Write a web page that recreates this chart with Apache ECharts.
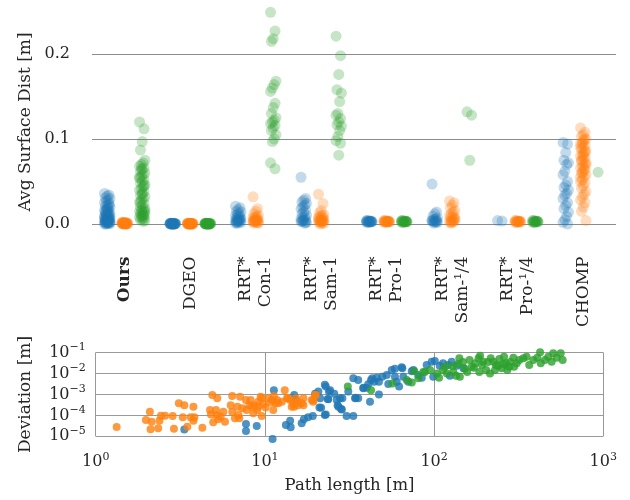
<!DOCTYPE html>
<html><head><meta charset="utf-8">
<script src="https://cdn.jsdelivr.net/npm/echarts@6/dist/echarts.min.js"></script>
<style>html,body{margin:0;padding:0;background:#fff}#c{width:630px;height:500px}</style>
</head><body><div id="c"></div>
<script>
const methods = ['Ours','DGEO','RRT*\nCon-1','RRT*\nSam-1','RRT*\nPro-1','RRT*\nSam-\u00B9/4','RRT*\nPro-\u00B9/4','CHOMP'];
const yTicks = [0, 0.1, 0.2];

// Avg surface distance per method, one list per method
const distBlue = [
  [0.036,0.034,0.033,0.031,0.03,0.028,0.027,0.025,0.024,0.022,0.021,0.02,0.018,0.017,0.016,0.015,0.014,0.013,0.012,0.011,0.01,0.009,0.008,0.008,0.007,0.006,0.006,0.005,0.005,0.004,0.004,0.003,0.003,0.002,0.002,0.002,0.001,0.001,0.001,0.0005,0.012,0.01,0.008,0.006,0.004,0.003,0.002,0.001,0.0,0.0,0.022,0.018,0.015,0.009,0.005],
  [0.001,0.0008,0.0006,0.0005,0.0004,0.0003,0.0002,0.0001,0.0,0.0,0.001,0.0007,0.0005,0.0003,0.0002,0.0001,0.0,0.0008,0.0004,0.0002,0.0,0.0006,0.0003,0.0001,0.0],
  [0.021,0.019,0.017,0.015,0.014,0.012,0.011,0.01,0.009,0.008,0.007,0.006,0.005,0.005,0.004,0.004,0.003,0.003,0.002,0.002,0.001,0.001,0.006,0.004,0.002],
  [0.055,0.03,0.028,0.026,0.024,0.022,0.02,0.018,0.016,0.014,0.012,0.01,0.008,0.007,0.006,0.005,0.004,0.003,0.002,0.001,0.004,0.003,0.002],
  [0.004,0.0035,0.003,0.003,0.0028,0.0025,0.0022,0.002,0.003,0.0035,0.004,0.0025,0.003,0.002,0.0032,0.0028],
  [0.047,0.014,0.012,0.009,0.007,0.006,0.005,0.004,0.004,0.003,0.003,0.002,0.002,0.001,0.004,0.003],
  [0.004,0.0035],
  [0.096,0.094,0.084,0.075,0.072,0.07,0.062,0.058,0.05,0.046,0.043,0.04,0.036,0.034,0.03,0.025,0.022,0.018,0.014,0.009,0.005,0.002,0.0]
];
const distOrange = [
  [0.002,0.0018,0.0015,0.0012,0.001,0.0008,0.0006,0.0005,0.0004,0.0003,0.0002,0.0001,0.0,0.002,0.0015,0.001,0.0007,0.0004,0.0002,0.0,0.0018,0.0012,0.0006,0.0003,0.0],
  [0.001,0.0008,0.0006,0.0005,0.0004,0.0003,0.0002,0.0001,0.0,0.0,0.001,0.0007,0.0005,0.0003,0.0002,0.0001,0.0,0.0008,0.0004,0.0002,0.0,0.0006,0.0003,0.0001,0.0],
  [0.032,0.018,0.015,0.012,0.01,0.009,0.008,0.007,0.006,0.005,0.005,0.004,0.004,0.003,0.003,0.002,0.002,0.001,0.001,0.005,0.004,0.003,0.002],
  [0.035,0.024,0.016,0.013,0.011,0.01,0.009,0.008,0.007,0.006,0.005,0.005,0.004,0.004,0.003,0.003,0.002,0.002,0.001,0.001,0.0,0.006,0.004,0.003],
  [0.004,0.0035,0.003,0.003,0.0028,0.0025,0.0022,0.002,0.003,0.0035,0.004,0.0025,0.003,0.002,0.0032,0.0028],
  [0.027,0.025,0.022,0.019,0.016,0.014,0.012,0.01,0.009,0.008,0.007,0.006,0.005,0.004,0.003,0.003,0.002,0.001,0.006,0.004,0.002],
  [0.004,0.0035,0.003,0.003,0.0028,0.0025,0.0022,0.002,0.003,0.0035,0.004,0.0025,0.003,0.002],
  [0.113,0.108,0.105,0.103,0.1,0.098,0.096,0.094,0.092,0.09,0.088,0.086,0.084,0.082,0.08,0.078,0.076,0.074,0.072,0.07,0.068,0.066,0.064,0.062,0.06,0.058,0.055,0.052,0.05,0.048,0.045,0.042,0.038,0.035,0.032,0.028,0.025,0.02,0.015,0.004,0.1,0.095,0.09,0.085,0.08,0.075,0.07,0.065,0.06,0.055]
];
const distGreen = [
  [0.12,0.112,0.097,0.087,0.075,0.072,0.07,0.068,0.066,0.064,0.062,0.06,0.058,0.056,0.054,0.052,0.05,0.048,0.046,0.044,0.042,0.04,0.038,0.036,0.034,0.032,0.03,0.028,0.026,0.024,0.022,0.02,0.018,0.017,0.016,0.015,0.014,0.013,0.012,0.011,0.01,0.009,0.008,0.007,0.006,0.005,0.004,0.003,0.065,0.055,0.045,0.035,0.025,0.015,0.01],
  [0.001,0.0008,0.0006,0.0005,0.0004,0.0003,0.0002,0.0001,0.0,0.0,0.001,0.0007,0.0005,0.0003,0.0002,0.0001,0.0,0.0008,0.0004,0.0002,0.0,0.0006,0.0003,0.0001,0.0],
  [0.249,0.227,0.218,0.215,0.168,0.164,0.16,0.156,0.142,0.137,0.13,0.125,0.122,0.12,0.118,0.116,0.113,0.11,0.105,0.1,0.097,0.072,0.065],
  [0.221,0.198,0.176,0.158,0.154,0.144,0.13,0.128,0.124,0.12,0.117,0.115,0.11,0.103,0.098,0.095,0.081],
  [0.004,0.0035,0.003,0.003,0.0028,0.0025,0.0022,0.002,0.003,0.0035,0.004,0.0025,0.003,0.002,0.0032,0.0028],
  [0.132,0.128,0.075],
  [0.004,0.0035,0.003,0.003,0.0028,0.0025,0.0022,0.002,0.003,0.0035,0.004,0.0025,0.003,0.002],
  [0.061]
];

// Path length [m] vs deviation [m]
const pathOrange = [[1.33,2.8e-5],[1.98,6.0e-5],[2.09,1.5e-4],[2.14,5.0e-5],[2.11,2.2e-5],[2.38,5.6e-5],[2.43,9.7e-5],[2.57,9.7e-5],[2.34,2.4e-5],[2.85,9.3e-5],[2.90,2.3e-5],[3.1,3.8e-4],[3.34,3.1e-4],[3.27,8.1e-5],[3.48,2.9e-5],[3.64,8.1e-5],[3.78,2.6e-4],[3.83,8.1e-5],[3.78,5.6e-5],[4.27,2.6e-5],[4.74,1.8e-4],[4.8,1.1e-4],[4.89,9.5e-4],[5.23,6.6e-4],[4.95,4.7e-5],[5.14,1.8e-4],[5.19,1.05e-4],[5.3,6.5e-5],[5.48,8.7e-5],[5.68,1.5e-4],[5.81,5.0e-5],[6.28,3.1e-4],[6.41,8.5e-4],[6.41,1.5e-4],[6.65,7.3e-5],[6.87,2.6e-4],[6.97,1.05e-4],[7.13,7.9e-4],[7.06,7.3e-5],[7.35,2.2e-4],[7.73,5.5e-4],[7.8,1.8e-4],[8.09,3.1e-4],[8.24,5.5e-4],[8.36,2.6e-4],[8.54,1.26e-4],[8.63,3.1e-4],[9.02,1.8e-4],[9.14,4.5e-4],[9.44,7.9e-4],[9.57,9.3e-5],[9.78,3.5e-4],[10.1,2.4e-4],[10.5,6.6e-4],[10.8,4.1e-4],[11.3,8.5e-4],[11.2,1.8e-4],[11.6,3.8e-4],[11.8,5.5e-4],[12.6,4.5e-4],[13.1,1.6e-3],[13.5,6.6e-4],[14.1,5.5e-4],[14.4,2.6e-4],[14.7,3.8e-4],[15.3,6.6e-4],[15.7,3.1e-4],[16.5,3.8e-4],[16.9,6.6e-4],[18.9,5.5e-4],[19.8,9.5e-4],[19.3,4.5e-4],[9.57,6.6e-4],[9.14,2.6e-4],[11.0,5.5e-4],[12.0,3.8e-4],[13.7,6.6e-4],[14.9,2.6e-4],[15.7,4.2e-4],[16.9,3.1e-4],[20.0,9.5e-4],[19.3,5.5e-4]];
const pathBlue = [[11.3,1.6e-3],[7.73,3.9e-5],[7.73,1.8e-5],[8.95,3.1e-5],[11.1,7.4e-6],[13.3,3.5e-5],[14.1,5.6e-5],[14.2,2.7e-5],[14.9,9.5e-4],[16.5,4.2e-5],[17.0,6.5e-5],[18.0,8.1e-5],[19.2,9.4e-5],[19.8,1.1e-3],[20.7,1.4e-3],[21.0,2.4e-4],[15.1,5.5e-4],[21.2,6.6e-4],[21.5,2.3e-4],[22.9,2.4e-3],[22.9,1.1e-4],[23.5,6.1e-4],[23.9,1.4e-3],[25.7,1.1e-3],[26.6,5.5e-4],[26.9,3.1e-4],[28.2,2.0e-4],[28.7,6.6e-4],[30.4,9.4e-5],[31.1,1.4e-3],[33.3,6.0e-3],[33.3,9.4e-5],[34.4,7.0e-4],[35.6,4.9e-3],[38.2,2.1e-3],[40.0,2.1e-3],[40.8,3.1e-3],[41.8,4.5e-4],[42.4,4.9e-3],[43.1,6.0e-3],[44.3,4.1e-3],[45.8,6.4e-3],[47.2,1.0e-3],[47.2,4.1e-3],[49.4,7.1e-3],[52.5,8.6e-3],[56.2,1.5e-2],[58.7,1.7e-2],[58.7,7.1e-3],[60.1,4.1e-3],[62.1,2.4e-3],[64.9,1.8e-2],[65.8,7.1e-3],[70.4,4.1e-3],[73.8,1.3e-2],[80.7,8.6e-3],[22.6,2.9e-3],[24.3,1.6e-3],[23.7,5.9e-4],[27.8,6.6e-4],[27.2,2.6e-4],[28.5,1.9e-4],[22.6,1.05e-4],[34.1,6.6e-4],[35.6,6.6e-4],[38.2,2.0e-3],[53.6,3.2e-3],[64.3,2.0e-2],[75.4,1.5e-2],[84.5,6.4e-3],[90.4,2.6e-2],[96.8,3.7e-2],[101,4.0e-2],[108,2.4e-2],[113,3.1e-2],[121,2.6e-2],[127,3.7e-2],[124,7.9e-3],[98.9,7.1e-3],[136,2.4e-2],[149,1.8e-2],[3.34,2.1e-5]];
const pathGreen = [[30.9,2.4e-3],[42.4,1.6e-3],[56.6,3.4e-3],[68.9,4.9e-3],[73.8,3.8e-3],[76.4,1.3e-2],[80.7,6.0e-3],[86.3,1.2e-2],[88.3,1.2e-2],[94.6,1.5e-2],[104,1.0e-2],[107,6.4e-3],[113,1.5e-2],[119,1.0e-2],[130,1.2e-2],[135,7.9e-3],[141,5.4e-2],[142,7.1e-3],[152,1.7e-2],[162,4.5e-2],[167,2.1e-2],[175,3.1e-2],[183,5.4e-2],[187,7.2e-2],[185,1.2e-2],[195,3.7e-2],[203,1.5e-2],[214,1.0e-2],[216,5.4e-2],[224,3.7e-2],[232,2.6e-2],[243,5.0e-2],[251,1.8e-2],[259,6.4e-2],[266,3.1e-2],[271,1.5e-2],[278,2.1e-2],[294,5.8e-2],[308,3.1e-2],[319,4.5e-2],[337,5.4e-2],[352,6.4e-2],[365,2.6e-2],[386,4.5e-2],[407,5.8e-2],[423,1.05e-1],[427,3.1e-2],[452,4.5e-2],[473,6.4e-2],[495,3.7e-2],[506,9.4e-2],[530,5.8e-2],[560,9.4e-2],[575,4.5e-2],[172,1.9e-2],[192,2.6e-2],[208,3.6e-2],[229,1.5e-2],[256,2.9e-2],[282,3.6e-2],[297,2.1e-2],[239,2.3e-2],[148,3.6e-2],[157,1.2e-2],[116,2.1e-2],[128,2.3e-2],[139,2.9e-2]];

const BLUE = '#1f77b4', ORANGE = '#ff7f0e', GREEN = '#2ca02c';
const FONT = 'DejaVu Serif';
const TXT = '#262626';

function strip(lists, off) {
  const out = [];
  lists.forEach((vals, ci) => {
    vals.forEach((v, i) => {
      out.push({ value: [ci, v], symbolOffset: [off + (((i * 5) % 7) - 3) * 0.9, 0] });
    });
  });
  return out;
}
function pow10(v) {
  const e = Math.round(Math.log10(v));
  return '{b|10}{s|' + (e < 0 ? '\u2212' + (-e) : e) + '}';
}
const supRich = {
  b: { fontFamily: FONT, fontSize: 16, color: TXT, lineHeight: 22 },
  s: { fontFamily: FONT, fontSize: 11, color: TXT, lineHeight: 12, verticalAlign: 'top' }
};

const chart = echarts.init(document.getElementById('c'), null, { renderer: 'canvas' });
const stripStyle = (c) => ({ color: c, opacity: 0.27 });
chart.setOption({
  animation: false,
  backgroundColor: '#fff',
  grid: [
    { left: 92, right: 14, top: 11.5, bottom: 267.5 },
    { left: 95.7, right: 26.7, top: 352.7, bottom: 63.7 }
  ],
  xAxis: [
    { type: 'category', gridIndex: 0, data: methods, boundaryGap: true,
      axisLine: { show: false }, axisTick: { show: false }, splitLine: { show: false },
      axisLabel: { rotate: 90, margin: 24, fontFamily: FONT, fontSize: 17, color: TXT, lineHeight: 20,
        interval: 0,
        formatter: (v) => v === 'Ours' ? '{bold|Ours}' : v,
        rich: { bold: { fontFamily: FONT, fontSize: 17, fontWeight: 'bold', color: TXT } } } },
    { type: 'log', gridIndex: 1, logBase: 10, min: 1, max: 1000,
      name: 'Path length [m]', nameLocation: 'middle', nameGap: 41,
      nameTextStyle: { fontFamily: FONT, fontSize: 16.5, color: TXT },
      axisLine: { show: false }, axisTick: { show: false },
      splitLine: { show: true, lineStyle: { color: '#999', width: 1 } },
      axisLabel: { margin: 15, formatter: pow10, rich: supRich } }
  ],
  yAxis: [
    { type: 'value', gridIndex: 0, min: -0.01, max: 0.25,
      name: 'Avg Surface Dist [m]', nameLocation: 'middle', nameGap: 58,
      nameTextStyle: { fontFamily: FONT, fontSize: 17, color: TXT },
      axisLine: { show: false },
      axisTick: { show: false, customValues: yTicks },
      splitLine: { show: true, lineStyle: { color: '#8c8c8c', width: 1 } },
      axisLabel: { customValues: yTicks, margin: 22, fontFamily: FONT, fontSize: 16, color: TXT,
        formatter: (v) => v.toFixed(1) } },
    { type: 'log', gridIndex: 1, logBase: 10, min: 1e-5, max: 1e-1, splitNumber: 5,
      name: 'Deviation [m]', nameLocation: 'middle', nameGap: 62,
      nameTextStyle: { fontFamily: FONT, fontSize: 17, color: TXT },
      axisLine: { show: false }, axisTick: { show: false },
      splitLine: { show: true, lineStyle: { color: '#999', width: 1 } },
      axisLabel: { margin: 10, formatter: pow10, rich: supRich } }
  ],
  series: [
    { type: 'scatter', xAxisIndex: 0, yAxisIndex: 0, symbolSize: 11, data: strip(distBlue, -17.5), itemStyle: stripStyle(BLUE) },
    { type: 'scatter', xAxisIndex: 0, yAxisIndex: 0, symbolSize: 11, data: strip(distOrange, 0), itemStyle: stripStyle(ORANGE) },
    { type: 'scatter', xAxisIndex: 0, yAxisIndex: 0, symbolSize: 11, data: strip(distGreen, 17.5), itemStyle: stripStyle(GREEN) },
    { type: 'scatter', xAxisIndex: 1, yAxisIndex: 1, symbolSize: 8, clip: false, data: pathBlue, itemStyle: { color: BLUE, opacity: 0.8 } },
    { type: 'scatter', xAxisIndex: 1, yAxisIndex: 1, symbolSize: 8, clip: false, data: pathOrange, itemStyle: { color: ORANGE, opacity: 0.8 } },
    { type: 'scatter', xAxisIndex: 1, yAxisIndex: 1, symbolSize: 8, clip: false, data: pathGreen, itemStyle: { color: GREEN, opacity: 0.8 } }
  ]
});
</script></body></html>
